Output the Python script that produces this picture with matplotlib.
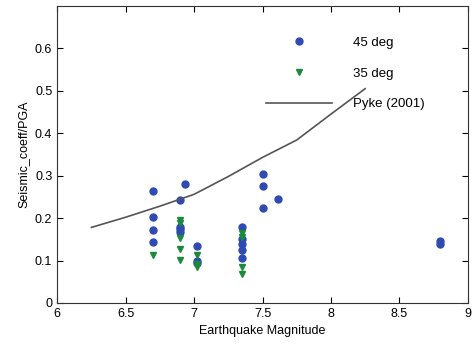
import numpy as np
import matplotlib
matplotlib.use("Agg")
from matplotlib import pyplot as plt

plt.rcParams['font.family'] = ['Liberation Sans', 'DejaVu Sans']

# 45 deg (blue circles)
mag45 = [6.7, 6.7, 6.7, 6.7, 6.9, 6.9, 6.9, 6.9, 6.93, 7.02, 7.02, 7.02,
         7.35, 7.35, 7.35, 7.35, 7.35, 7.5, 7.5, 7.5, 7.61, 8.8, 8.8]
coef45 = [0.264, 0.203, 0.173, 0.144, 0.242, 0.180, 0.175, 0.168, 0.280, 0.134, 0.100, 0.095,
          0.178, 0.150, 0.138, 0.125, 0.105, 0.305, 0.275, 0.223, 0.245, 0.147, 0.140]

# 35 deg (green triangles)
mag35 = [6.7, 6.9, 6.9, 6.9, 6.9, 6.9, 7.02, 7.02, 7.02, 7.35, 7.35, 7.35, 7.35]
coef35 = [0.113, 0.195, 0.188, 0.152, 0.128, 0.101, 0.113, 0.092, 0.085, 0.164, 0.155, 0.085, 0.068]

# Pyke (2001)
pyke_mag = [6.25, 6.5, 6.75, 7.0, 7.25, 7.5, 7.75, 8.0, 8.25]
pyke_coef = [0.178, 0.202, 0.228, 0.256, 0.298, 0.343, 0.384, 0.445, 0.505]

fig = plt.figure(figsize=(4.73, 3.49), dpi=100)
ax = fig.add_axes([0.121, 0.132, 0.868, 0.851])

ax.plot(mag45, coef45, 'o', color='#2f4ab0', markersize=5, label='45 deg')
ax.plot(mag35, coef35, 'v', color='#1b8a3c', markersize=5, label='35 deg')
ax.plot(pyke_mag, pyke_coef, '-', color='#555555', linewidth=1.2, label='Pyke (2001)')

ax.set_xlim(6, 9)
ax.set_ylim(0, 0.7)
ax.set_xticks([6, 6.5, 7, 7.5, 8, 8.5, 9])
ax.set_xticklabels(['6', '6.5', '7', '7.5', '8', '8.5', '9'])
ax.set_yticks([0, 0.1, 0.2, 0.3, 0.4, 0.5, 0.6])
ax.set_yticklabels(['0', '0.1', '0.2', '0.3', '0.4', '0.5', '0.6'])
ax.tick_params(direction='in', top=True, right=True, labelsize=9, length=4)
for s in ax.spines.values():
    s.set_color('#333333')
    s.set_linewidth(0.8)

ax.set_xlabel('Earthquake Magnitude', fontsize=9)
ax.set_ylabel('Seismic_coeff/PGA', fontsize=9)

ax.legend(loc='upper left', bbox_to_anchor=(0.492, 0.919), frameon=False, fontsize=9.5,
          handlelength=5, handletextpad=1.6, labelspacing=1.4, borderpad=0)

fig.savefig('out.png', dpi=100)
